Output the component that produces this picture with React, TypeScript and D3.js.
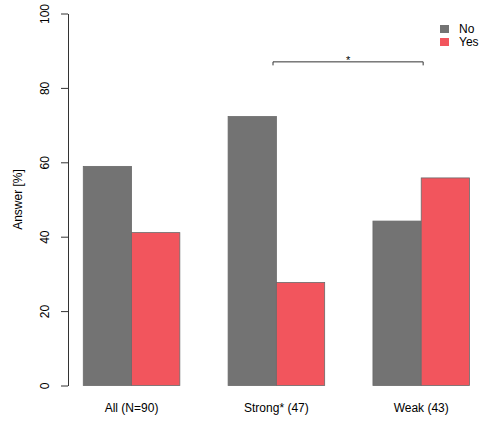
import { useEffect, useRef } from "react";
import { scaleLinear, select, axisLeft } from "d3";

// data
const groups = ["All (N=90)", "Strong* (47)", "Weak (43)"];
const series = ["No", "Yes"];
const noValues = [58.9, 72.3, 44.2];
const yesValues = [41.1, 27.7, 55.8];
const yTicks = [0, 20, 40, 60, 80, 100];
const colors = ["#737373", "#F2555D"];
// significance bracket between Strong and Weak (in bar units)
const bracket = { from: 4.93, to: 8.04, level: 87, label: "*" };

const width = 479;
const height = 421;
const font = "'Liberation Sans', Arial, Helvetica, sans-serif";

export default function App() {
  const ref = useRef<SVGSVGElement>(null);

  useEffect(() => {
    const svg = select(ref.current);
    svg.selectAll("*").remove();

    // R barplot style: each group = 2 bars, one bar-width space before it
    const x = scaleLinear().domain([0, 9]).range([35, 469.5]);
    const y = scaleLinear().domain([0, 100]).range([385.5, 13.5]);

    const bars = groups.flatMap((g, i) => [
      { group: g, s: 0, v: noValues[i], x0: 1 + i * 3 },
      { group: g, s: 1, v: yesValues[i], x0: 2 + i * 3 },
    ]);

    svg
      .append("g")
      .selectAll("rect")
      .data(bars)
      .enter()
      .append("rect")
      .attr("x", (d) => x(d.x0))
      .attr("y", (d) => y(d.v))
      .attr("width", (d) => x(d.x0 + 1) - x(d.x0))
      .attr("height", (d) => y(0) - y(d.v))
      .style("fill", (d) => colors[d.s])
      .style("stroke", "#6a6a6a")
      .style("stroke-width", 0.8);

    // y axis
    const yAxis = svg
      .append("g")
      .attr("transform", "translate(68,0)")
      .call(axisLeft(y).tickValues(yTicks).tickSize(7).tickSizeOuter(0).tickPadding(0));
    yAxis.select(".domain").attr("stroke", "#333");
    yAxis.selectAll(".tick line").attr("stroke", "#333");
    yAxis
      .selectAll(".tick text")
      .attr("transform", "rotate(-90)")
      .attr("x", 0)
      .attr("y", -19)
      .attr("dy", 0)
      .style("text-anchor", "middle")
      .style("font-family", font)
      .style("font-size", "12px")
      .style("fill", "#000");

    svg
      .append("text")
      .attr("transform", `translate(22,${(y(0) + y(100)) / 2}) rotate(-90)`)
      .style("text-anchor", "middle")
      .style("font-family", font)
      .style("font-size", "12px")
      .text("Answer [%]");

    // group labels
    svg
      .append("g")
      .selectAll("text")
      .data(groups)
      .enter()
      .append("text")
      .attr("x", (_, i) => x(2 + i * 3))
      .attr("y", 412)
      .style("text-anchor", "middle")
      .style("font-family", font)
      .style("font-size", "12px")
      .text((d) => d);

    // significance bracket
    const by = y(bracket.level);
    svg
      .append("path")
      .attr(
        "d",
        `M${x(bracket.from)},${by + 3.5}V${by}H${x(bracket.to)}V${by + 3.5}`
      )
      .attr("fill", "none")
      .attr("stroke", "#333")
      .attr("stroke-width", 1);
    svg
      .append("text")
      .attr("x", (x(bracket.from) + x(bracket.to)) / 2)
      .attr("y", by + 2)
      .style("text-anchor", "middle")
      .style("font-family", font)
      .style("font-size", "11px")
      .text(bracket.label);

    // legend
    const leg = svg
      .append("g")
      .selectAll("g")
      .data(series)
      .enter()
      .append("g")
      .attr("transform", (_, i) => `translate(440,${29 + i * 13})`);
    leg
      .append("rect")
      .attr("x", 0)
      .attr("y", -4)
      .attr("width", 9)
      .attr("height", 8)
      .style("fill", (_, i) => colors[i]);
    leg
      .append("text")
      .attr("x", 19)
      .attr("y", 4.3)
      .style("font-family", font)
      .style("font-size", "12px")
      .text((d) => d);
  }, []);

  return (
    <svg
      ref={ref}
      width={width}
      height={height}
      style={{ position: "absolute", left: 0, top: 0, background: "#fff" }}
    />
  );
}
